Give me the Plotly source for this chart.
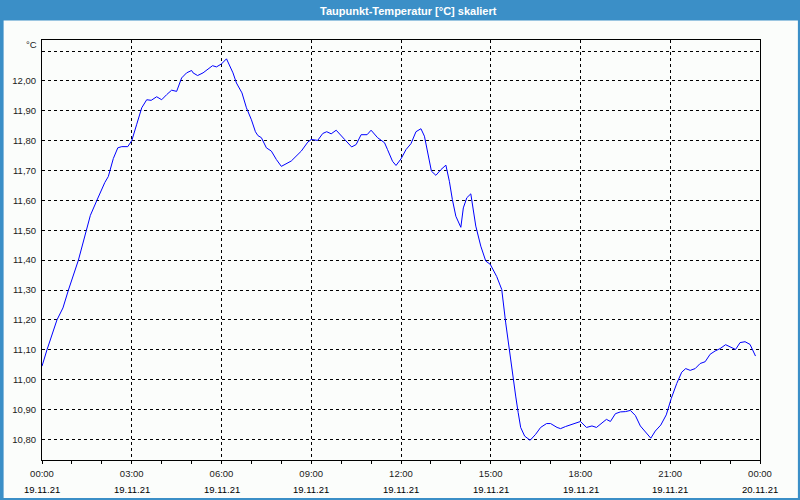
import plotly.graph_objects as go
import pandas as pd

# minutes after 19.11.21 00:00
minutes = [0, 10, 30, 42, 53, 73, 89, 97, 110, 126, 133, 143, 152, 160, 172, 180, 190, 200, 210, 219,
           230, 240, 250, 260, 270, 280, 290, 300, 303, 312, 323, 333, 342, 350, 360, 370, 383, 390,
           401, 410, 420, 428, 433, 440, 450, 460, 470, 480, 490, 500, 520, 533, 540, 553, 563, 571,
           580, 590, 607, 621, 630, 640, 652, 660, 673, 687, 693, 703, 710, 720, 730, 740, 750, 760,
           767, 773, 781, 790, 800, 810, 817, 823, 830, 840, 845, 852, 860, 870, 880, 890, 899, 912,
           922, 930, 937, 943, 950, 955, 960, 968, 979, 990, 1000, 1012, 1020, 1033, 1040, 1050, 1060,
           1070, 1080, 1092, 1103, 1112, 1123, 1132, 1140, 1150, 1160, 1170, 1180, 1190, 1200, 1210,
           1221, 1230, 1241, 1252, 1262, 1273, 1283, 1291, 1300, 1310, 1320, 1330, 1340, 1350, 1360,
           1371, 1380, 1391, 1400, 1410, 1420, 1431]
values = [11.045, 11.10, 11.20, 11.24, 11.30, 11.40, 11.50, 11.55, 11.60, 11.66, 11.68, 11.74, 11.776,
          11.78, 11.78, 11.80, 11.855, 11.91, 11.937, 11.935, 11.947, 11.937, 11.954, 11.969, 11.965,
          12.01, 12.027, 12.035, 12.027, 12.018, 12.027, 12.04, 12.051, 12.047, 12.057, 12.074, 12.027,
          11.993, 11.96, 11.91, 11.87, 11.83, 11.817, 11.81, 11.776, 11.765, 11.737, 11.714, 11.724,
          11.732, 11.765, 11.795, 11.804, 11.801, 11.824, 11.83, 11.823, 11.835, 11.804, 11.779, 11.787,
          11.82, 11.82, 11.835, 11.81, 11.793, 11.77, 11.731, 11.717, 11.739, 11.77, 11.79, 11.83, 11.84,
          11.815, 11.759, 11.698, 11.684, 11.703, 11.718, 11.664, 11.603, 11.547, 11.51, 11.575, 11.609,
          11.622, 11.514, 11.447, 11.397, 11.386, 11.345, 11.302, 11.19, 11.10, 11.023, 10.945, 10.89,
          10.84, 10.811, 10.797, 10.817, 10.84, 10.853, 10.853, 10.84, 10.836, 10.843, 10.848, 10.853,
          10.86, 10.84, 10.845, 10.84, 10.856, 10.867, 10.86, 10.886, 10.892, 10.893, 10.897, 10.88,
          10.845, 10.826, 10.804, 10.828, 10.848, 10.882, 10.937, 10.987, 11.025, 11.037, 11.031, 11.037,
          11.054, 11.06, 11.085, 11.096, 11.104, 11.117, 11.109, 11.101, 11.124, 11.127, 11.118, 11.079]

y_ticks = [10.8, 10.9, 11.0, 11.1, 11.2, 11.3, 11.4, 11.5, 11.6, 11.7, 11.8, 11.9, 12.0, 12.1]
y_ticktext = ["10,80", "10,90", "11,00", "11,10", "11,20", "11,30", "11,40", "11,50", "11,60",
              "11,70", "11,80", "11,90", "12,00", ""]
x_tick_times = ["2021-11-19 00:00", "2021-11-19 03:00", "2021-11-19 06:00", "2021-11-19 09:00",
                "2021-11-19 12:00", "2021-11-19 15:00", "2021-11-19 18:00", "2021-11-19 21:00",
                "2021-11-20 00:00"]
x_time_labels = ["00:00", "03:00", "06:00", "09:00", "12:00", "15:00", "18:00", "21:00", "00:00"]
x_date_labels = ["19.11.21"] * 8 + ["20.11.21"]

title = "Taupunkt-Temperatur [°C] skaliert"
unit = "°C"

W, H = 800, 500
L, R, T, B = 40, 40, 40, 40
PW, PH = W - L - R, H - T - B
BLUE = "#3b8fc7"
BG = "#fbfdfb"
FONT = "Liberation Sans"

t0 = pd.Timestamp("2021-11-19 00:00")
times = [t0 + pd.Timedelta(minutes=m) for m in minutes]


def px_x(x):
    return (x - L) / PW


def px_y(y):
    return 1 - (y - T) / PH


fig = go.Figure()
fig.add_trace(go.Scatter(x=times, y=values, mode="lines",
                         line=dict(color="#0000ff", width=1), hoverinfo="skip"))

fig.update_layout(
    width=W, height=H,
    margin=dict(l=L, r=R, t=T, b=B, pad=0),
    paper_bgcolor=BLUE,
    plot_bgcolor=BG,
    showlegend=False,
    font=dict(family=FONT, size=9.5, color="#000000"),
)

fig.update_xaxes(
    type="date",
    range=["2021-11-19 00:00", "2021-11-20 00:00"],
    tickmode="array", tickvals=x_tick_times, ticktext=x_time_labels,
    ticks="outside", ticklen=3, tickcolor="#000000", tickwidth=1,
    minor=dict(dtick=3600000, ticks="outside", ticklen=3, tickcolor="#000000", showgrid=False),
    showgrid=True, gridcolor="#000000", gridwidth=1, griddash="3px,3px",
    showline=True, linecolor="#000000", linewidth=1, mirror=True,
    zeroline=False,
    tickfont=dict(family=FONT, size=9.5, color="#1a1a1a"),
    ticklabelstandoff=2,
)
fig.update_yaxes(
    range=[10.731, 12.137],
    tickmode="array", tickvals=y_ticks, ticktext=y_ticktext,
    ticks="",
    showgrid=True, gridcolor="#000000", gridwidth=1, griddash="3px,3px",
    showline=True, linecolor="#000000", linewidth=1, mirror=True,
    zeroline=False,
    tickfont=dict(family=FONT, size=9.5, color="#1a1a1a"),
    ticklabelstandoff=3,
)

# light window body (leaves blue border and title bar)
fig.add_shape(type="rect", xref="paper", yref="paper",
              x0=px_x(1.5), x1=px_x(798), y0=px_y(498), y1=px_y(20.5),
              fillcolor=BG, line=dict(width=0), layer="below")

annotations = [
    dict(text=title, x=px_x(408), y=px_y(10.5), xref="paper", yref="paper",
         xanchor="center", yanchor="middle", showarrow=False,
         font=dict(family=FONT, size=11, color="#ffffff", weight="bold")),
    dict(text=unit, x=px_x(37), y=px_y(45), xref="paper", yref="paper",
         xanchor="right", yanchor="middle", showarrow=False,
         font=dict(family=FONT, size=9.5, color="#1a1a1a")),
]
for tv, dl in zip(x_tick_times, x_date_labels):
    annotations.append(dict(text=dl, x=tv, y=px_y(489), xref="x", yref="paper",
                            xanchor="center", yanchor="middle", showarrow=False,
                            font=dict(family=FONT, size=9.5, color="#000000")))
fig.update_layout(annotations=annotations)

fig.write_html("out.html")
